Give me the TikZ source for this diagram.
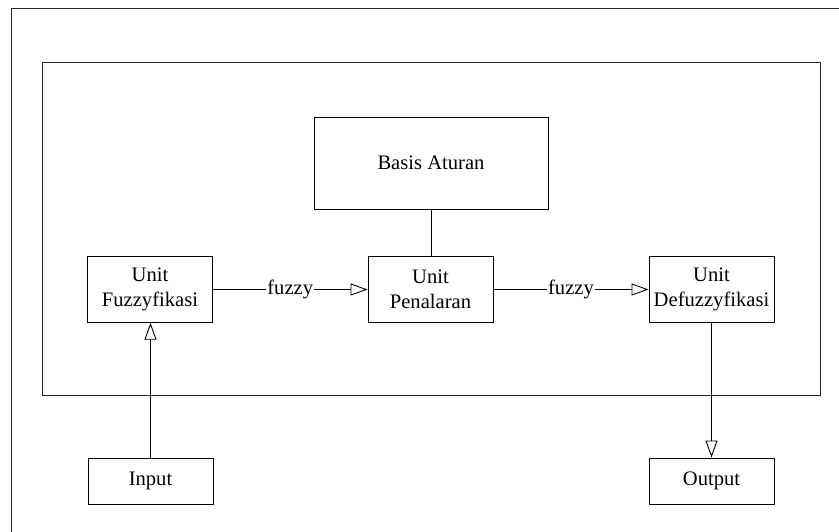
\documentclass[tikz,border=0pt]{standalone}
\usepackage{fontspec}
\setmainfont{Liberation Serif}
\usetikzlibrary{arrows.meta}
\begin{document}
\begin{tikzpicture}[x=1pt,y=-1pt,
  every node/.style={font=\fontsize{20.6}{25.5}\selectfont},
  box/.style={draw=black, line width=0.9pt, fill=white, align=center,
    inner sep=0pt, minimum width=125pt, minimum height=65.5pt},
  iobox/.style={box, minimum height=46pt},
  frame/.style={draw=black!85, line width=0.9pt},
  link/.style={draw=black, line width=0.9pt},
  flow/.style={link, -{Triangle[open, length=17pt, width=12pt]}},
  tag/.style={fill=white, inner sep=1pt}
]
\useasboundingbox (0,0) rectangle (839,532);

% outer frame (only top and left edges fall inside the page)
\draw[frame] (11,532) -- (11,8) -- (839,8);
% system boundary
\draw[frame] (42,62) rectangle (820,395);

% blocks
\node[box, minimum width=234pt, minimum height=92pt] (basis) at (431,163) {Basis Aturan};
\node[box] (fuzz)   at (150,289.5)   {Unit\\Fuzzyfikasi};
\node[box] (pen)    at (430.5,289.5) {Unit\\Penalaran};
\node[box] (defuzz) at (711.5,289.5) {Unit\\Defuzzyfikasi};
\node[iobox] (input)  at (150.5,481) {Input};
\node[iobox] (output) at (711.5,481) {Output};

% connections
\draw[flow] (input.north) -- (input.north |- fuzz.south);
\draw[flow] (fuzz.east) -- node[tag] {fuzzy} (pen.west);
\draw[flow] (pen.east) -- node[tag] {fuzzy} (defuzz.west);
\draw[link] (basis.south) -- (basis.south |- pen.north);
\draw[flow] (defuzz.south) -- (defuzz.south |- output.north);
\end{tikzpicture}
\end{document}
